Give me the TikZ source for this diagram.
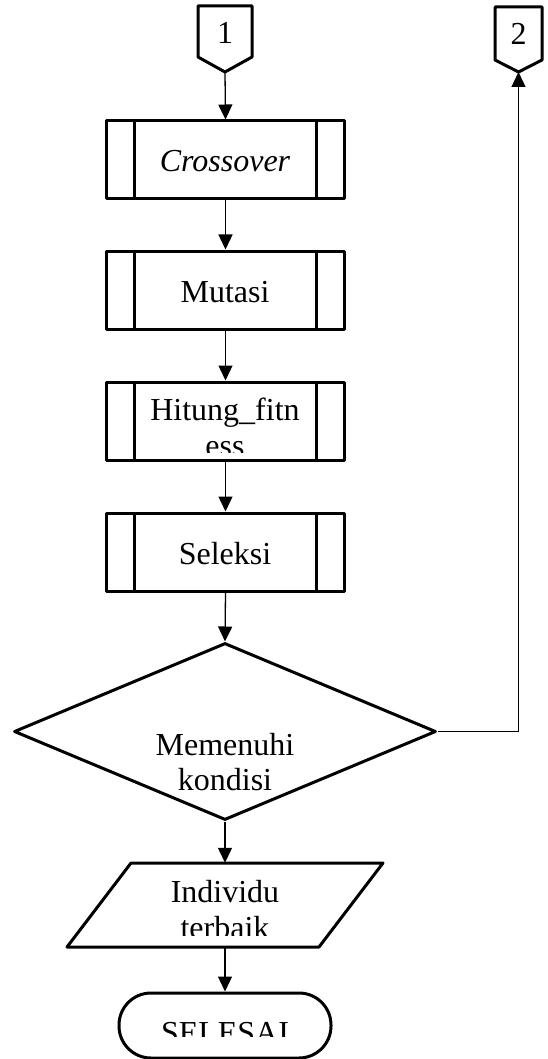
\documentclass[tikz,border=0pt]{standalone}
\usepackage{fontspec}
\setmainfont{Liberation Serif}
\usetikzlibrary{arrows.meta,shapes.geometric}
\begin{document}
\begin{tikzpicture}[x=1pt,y=-1pt,
  shp/.style={line width=3pt, line join=round},
  conn/.style={line width=1.3pt, -{Triangle[length=15pt,width=14pt]}},
  proc/.style={shp, draw, rectangle, minimum width=238pt, minimum height=78pt, inner sep=0pt},
  txt/.style={font=\fontsize{32}{36}\selectfont, inner sep=0pt, anchor=base},
  ghost/.style={inner sep=0pt, rectangle}]
\useasboundingbox (0,0) rectangle (547,1059);
% off-page connectors
\draw[shp] (198,6) -- (252,6) -- (252,57) -- (225,72) coordinate (p1) -- (198,57) -- cycle;
\node[txt] (l1) at (225,44) {1};
\draw[shp] (495,7) -- (542,7) -- (542,60) -- (518.5,72) coordinate (p2) -- (495,60) -- cycle;
\node[txt] (l2) at (518.5,45) {2};
% processes
\node[proc] (cross) at (225.5,160) {};
\node[proc] (mut) at (225.5,290) {};
\node[proc] (hit) at (225.5,421) {};
\node[proc] (sel) at (225.5,552) {};
\foreach \n in {cross,mut,hit,sel}{
  \draw[shp] ([xshift=29.5pt]\n.north west) -- ([xshift=29.5pt]\n.south west);
  \draw[shp] ([xshift=-29.5pt]\n.north east) -- ([xshift=-29.5pt]\n.south east);
}
\node[txt] (tc) at (225,172) {\itshape Crossover};
\node[txt] (tm) at (225,302) {Mutasi};
\node[txt] (th1) at (225,420) {Hitung\_fitn};
\begin{scope}
  \clip (100,384) rectangle (350,452);
  \node[txt] (th2) at (225,456) {ess};
\end{scope}
\node[txt] (ts) at (225,564) {Seleksi};
% decision
\node[diamond, shp, draw, minimum width=422pt, minimum height=177pt, inner sep=0pt] (dec) at (225,731.5) {};
\node[txt] (td1) at (225,755) {Memenuhi};
\node[txt] (td2) at (225,790) {kondisi};
% output
\node[ghost, minimum width=252pt, minimum height=84pt] (io) at (225,905) {};
\draw[shp] (131,863) -- (383,863) -- (319,947) -- (67,947) -- cycle;
\begin{scope}
  \clip (60,865) rectangle (390,935);
  \node[txt] (ti1) at (225,902) {Individu};
  \node[txt] (ti2) at (225,938) {terbaik};
\end{scope}
% terminal
\node[shp, draw, rectangle, rounded corners=32pt, minimum width=212pt, minimum height=65pt, inner sep=0pt] (term) at (225,1025.5) {};
\begin{scope}
  \clip (120,995) rectangle (330,1036);
  \node[txt] (tt) at (225,1043) {SELESAI};
\end{scope}
% connectors
\draw[conn] (p1) -- (cross.north);
\draw[conn] (cross.south) -- (mut.north);
\draw[conn] (mut.south) -- (hit.north);
\draw[conn] (hit.south) -- (sel.north);
\draw[conn] (sel.south) -- (dec.north);
\draw[conn] (dec.south) -- (io.north);
\draw[conn] (io.south) -- (term.north);
\draw[conn] (dec.east) -- (p2 |- dec.east) -- (p2);
\end{tikzpicture}
\end{document}
